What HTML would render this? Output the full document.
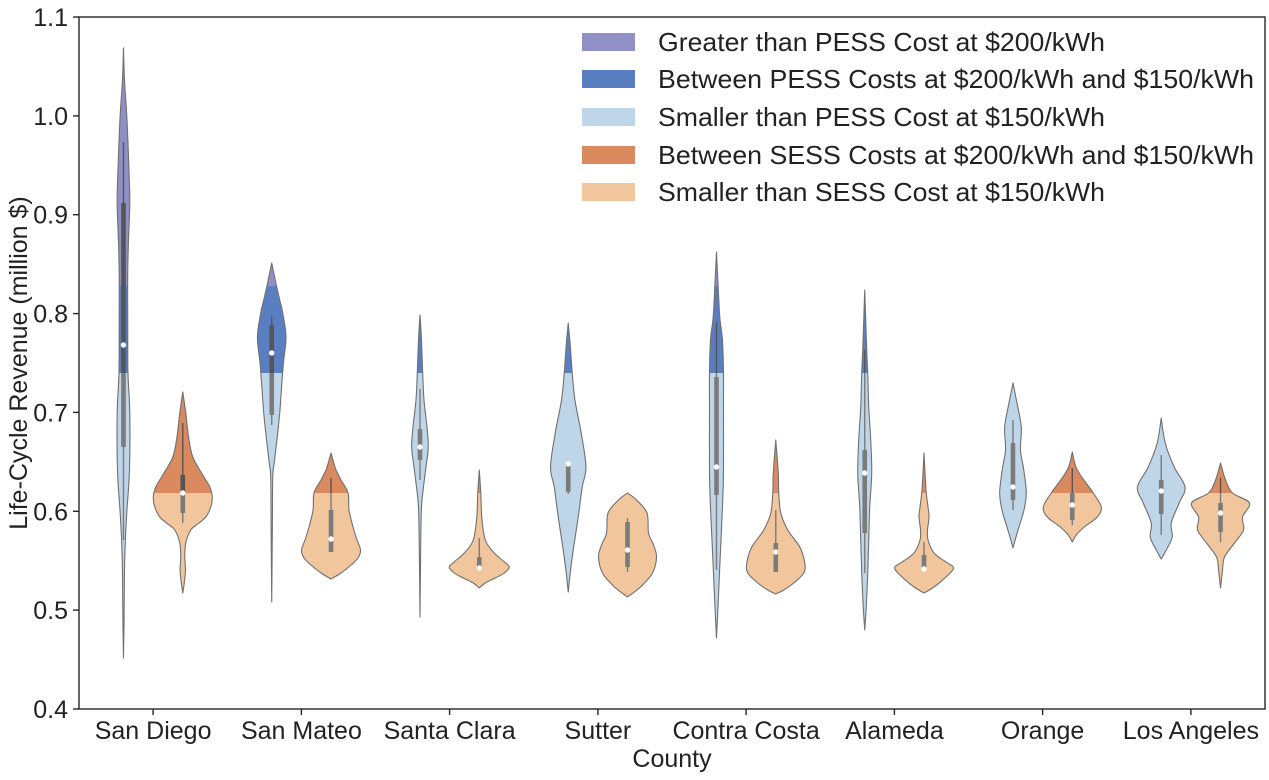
<!DOCTYPE html>
<html>
<head>
<meta charset="utf-8">
<style>
  html,body{margin:0;padding:0;background:#fff;}
  svg{display:block;}
  text{font-family:"Liberation Sans", Arial, sans-serif; fill:#222;}
</style>
</head>
<body>
<svg id="chart" width="1269" height="780" viewBox="0 0 1269 780" xmlns="http://www.w3.org/2000/svg">
  <defs>
    <linearGradient id="gBlue" gradientUnits="userSpaceOnUse" x1="0" y1="0" x2="0" y2="780">
      <stop offset="0" stop-color="#9190c6"/>
      <stop offset="0.3667" stop-color="#9190c6"/>
      <stop offset="0.3667" stop-color="#5a7ec2"/>
      <stop offset="0.4782" stop-color="#5a7ec2"/>
      <stop offset="0.4782" stop-color="#bfd5e8"/>
      <stop offset="1" stop-color="#bfd5e8"/>
    </linearGradient>
    <linearGradient id="gOrange" gradientUnits="userSpaceOnUse" x1="0" y1="0" x2="0" y2="780">
      <stop offset="0" stop-color="#da8a5e"/>
      <stop offset="0.6321" stop-color="#da8a5e"/>
      <stop offset="0.6321" stop-color="#f1c69d"/>
      <stop offset="1" stop-color="#f1c69d"/>
    </linearGradient>
    <linearGradient id="bxBlue" gradientUnits="userSpaceOnUse" x1="0" y1="0" x2="0" y2="780">
      <stop offset="0" stop-color="#555"/>
      <stop offset="0.4782" stop-color="#555"/>
      <stop offset="0.4782" stop-color="#7b7b7b"/>
      <stop offset="1" stop-color="#7b7b7b"/>
    </linearGradient>
    <linearGradient id="bxOrange" gradientUnits="userSpaceOnUse" x1="0" y1="0" x2="0" y2="780">
      <stop offset="0" stop-color="#555"/>
      <stop offset="0.6321" stop-color="#555"/>
      <stop offset="0.6321" stop-color="#7b7b7b"/>
      <stop offset="1" stop-color="#7b7b7b"/>
    </linearGradient>
  </defs>
  <rect x="0" y="0" width="1269" height="780" fill="#fff"/>
  <g id="violins"></g>
  <g id="boxes"></g>

  <!-- axes frame -->
  <rect x="79" y="17" width="1186" height="692" fill="none" stroke="#262626" stroke-width="1.4"/>

  <!-- y ticks -->
  <g stroke="#262626" stroke-width="1.4">
    <line x1="73" y1="17" x2="79" y2="17"/>
    <line x1="73" y1="115.9" x2="79" y2="115.9"/>
    <line x1="73" y1="214.7" x2="79" y2="214.7"/>
    <line x1="73" y1="313.6" x2="79" y2="313.6"/>
    <line x1="73" y1="412.4" x2="79" y2="412.4"/>
    <line x1="73" y1="511.3" x2="79" y2="511.3"/>
    <line x1="73" y1="610.1" x2="79" y2="610.1"/>
    <line x1="73" y1="709" x2="79" y2="709"/>
  </g>
  <g font-size="25" text-anchor="end">
    <text x="68" y="26">1.1</text>
    <text x="68" y="124.9">1.0</text>
    <text x="68" y="223.7">0.9</text>
    <text x="68" y="322.6">0.8</text>
    <text x="68" y="421.4">0.7</text>
    <text x="68" y="520.3">0.6</text>
    <text x="68" y="619.1">0.5</text>
    <text x="68" y="718">0.4</text>
  </g>

  <!-- x ticks -->
  <g stroke="#262626" stroke-width="1.4">
    <line x1="153.1" y1="709" x2="153.1" y2="715"/>
    <line x1="301.4" y1="709" x2="301.4" y2="715"/>
    <line x1="449.6" y1="709" x2="449.6" y2="715"/>
    <line x1="597.9" y1="709" x2="597.9" y2="715"/>
    <line x1="746.1" y1="709" x2="746.1" y2="715"/>
    <line x1="894.4" y1="709" x2="894.4" y2="715"/>
    <line x1="1042.6" y1="709" x2="1042.6" y2="715"/>
    <line x1="1190.9" y1="709" x2="1190.9" y2="715"/>
  </g>
  <g font-size="25" text-anchor="middle">
    <text x="153.1" y="739">San Diego</text>
    <text x="301.4" y="739">San Mateo</text>
    <text x="449.6" y="739">Santa Clara</text>
    <text x="597.9" y="739">Sutter</text>
    <text x="746.1" y="739">Contra Costa</text>
    <text x="894.4" y="739">Alameda</text>
    <text x="1042.6" y="739">Orange</text>
    <text x="1190.9" y="739">Los Angeles</text>
    <text x="672" y="767">County</text>
  </g>
  <text font-size="25" text-anchor="middle" transform="translate(27,363) rotate(-90)">Life-Cycle Revenue (million $)</text>

  <!-- legend -->
  <g>
    <rect x="582" y="33" width="53" height="18" fill="#9190c6"/>
    <rect x="582" y="70" width="53" height="18" fill="#5a7ec2"/>
    <rect x="582" y="108" width="53" height="18" fill="#bfd5e8"/>
    <rect x="582" y="146" width="53" height="18" fill="#da8a5e"/>
    <rect x="582" y="183" width="53" height="18" fill="#f1c69d"/>
  </g>
  <g font-size="26">
    <text x="658" y="51" textLength="447" lengthAdjust="spacingAndGlyphs">Greater than PESS Cost at $200/kWh</text>
    <text x="658" y="88" textLength="596" lengthAdjust="spacingAndGlyphs">Between PESS Costs at $200/kWh and $150/kWh</text>
    <text x="658" y="126" textLength="447" lengthAdjust="spacingAndGlyphs">Smaller than PESS Cost at $150/kWh</text>
    <text x="658" y="164" textLength="596" lengthAdjust="spacingAndGlyphs">Between SESS Costs at $200/kWh and $150/kWh</text>
    <text x="658" y="201" textLength="447" lengthAdjust="spacingAndGlyphs">Smaller than SESS Cost at $150/kWh</text>
  </g>
</svg>
<script>
(function(){
  var NS = "http://www.w3.org/2000/svg";
  function tick(i){ return 79 + 148.25*(i+0.5); }
  var blue = [
    [[48,0],[80,1],[110,3],[130,4],[170,5.5],[203,6.3],[247,4.8],[280,4.2],[330,4.3],[373,4.5],[413,6.3],[470,6],[510,3.5],[537,2],[570,1],[620,0.6],[658,0]],
    [[263,0],[275,2.5],[287,5],[300,8],[313,11],[337,14.3],[363,11.7],[385,10],[413,8],[437,5.5],[463,2.5],[477,1],[530,0.6],[602,0]],
    [[315,0],[340,1.5],[373,2.7],[400,4],[427,7],[447,8.3],[467,6],[487,3.5],[507,1.5],[540,0.8],[617,0]],
    [[323,0],[345,2],[373,4],[400,6.7],[433,13],[467,17.7],[487,14],[517,10],[550,5],[573,2],[592,0]],
    [[252,0],[283,1.5],[317,3.3],[340,6],[373,7],[407,7],[473,7],[507,6],[540,4.5],[573,3],[607,1.5],[638,0]],
    [[290,0],[350,2],[373,3],[407,4],[440,6],[473,7],[507,5],[540,4],[573,3],[607,1.5],[630,0]],
    [[383,0],[403,4],[427,8.3],[450,7.5],[470,10.8],[493,13.3],[510,11],[527,6],[537,3],[548,0]],
    [[418,0],[443,4],[467,13],[487,23.8],[503,18],[523,10],[537,11],[550,5],[559,0]]
  ];
  var orange = [
    [[392,0],[413,3],[437,5.8],[457,10],[475,20],[487,27],[497,29.5],[507,28],[517,23],[524,15],[530,8],[543,3],[557,2],[570,2.7],[583,1.5],[593,0]],
    [[453,0],[462,2.5],[470,5],[480,10],[493,17],[510,18],[527,22],[540,26],[550,29.5],[558,27],[565,20],[573,10],[579,0]],
    [[470,0],[493,1.5],[517,2.5],[540,6],[553,15],[561,24],[567,30],[573,25],[578,16],[583,6],[588,0]],
    [[493,0],[500,9],[513,19.5],[533,21],[545,26],[557,29],[573,25],[587,13],[597,0]],
    [[440,0],[473,2.5],[493,3],[513,5],[530,12],[547,24],[563,29],[573,28],[583,18],[590,8],[594,0]],
    [[453,0],[490,2],[507,4],[517,5],[530,3.5],[540,4],[553,10],[562,22],[568,29.5],[577,22],[587,10],[593,0]],
    [[452,0],[470,5],[493,21],[507,29],[517,25],[527,12],[535,4],[542,0]],
    [[463,0],[480,5],[493,12],[503,29],[517,22],[530,23],[543,14],[557,4],[570,2],[588,0]]
  ];
  // [whiskTop, whiskBot, boxTop, boxBot, median]
  var bBox = [
    [142,540,203,447,345],[316,425,325,415,353],[389,480,429,460,447],[462,494,465,492,464],
    [322,570,377,495,467],[350,573,450,533,473],[420,510,443,500,487],[455,535,480,514,491]
  ];
  var oBox = [
    [423,523,475,513,493],[478,552,510,552,539],[538,570,557,570,568],[518,572,522,567,550],
    [510,572,543,572,552],[542,570,555,570,569],[468,525,493,520,505],[478,542,503,532,513]
  ];
  function side(prof, cx, sgn){
    return prof.map(function(p){ return [cx + sgn*p[1], p[0]]; });
  }
  function cr(pts){
    var s = "";
    for (var i=0;i<pts.length-1;i++){
      var p0 = pts[i>0?i-1:i], p1=pts[i], p2=pts[i+1], p3=pts[i+2<pts.length?i+2:i+1];
      var c1x = p1[0] + (p2[0]-p0[0])/6, c1y = p1[1] + (p2[1]-p0[1])/6;
      var c2x = p2[0] - (p3[0]-p1[0])/6, c2y = p2[1] - (p3[1]-p1[1])/6;
      s += " C"+c1x.toFixed(2)+","+c1y.toFixed(2)+" "+c2x.toFixed(2)+","+c2y.toFixed(2)+" "+p2[0].toFixed(2)+","+p2[1].toFixed(2);
    }
    return s;
  }
  function violinPath(prof, cx){
    var r = side(prof, cx, 1);
    var l = side(prof, cx, -1).reverse();
    return "M"+r[0][0]+","+r[0][1] + cr(r) + cr(l) + " Z";
  }
  var gv = document.getElementById("violins");
  var gb = document.getElementById("boxes");
  function addViolin(prof, cx, fill){
    var p = document.createElementNS(NS,"path");
    p.setAttribute("d", violinPath(prof, cx));
    p.setAttribute("fill", fill);
    p.setAttribute("stroke", "#707070");
    p.setAttribute("stroke-width", "1.1");
    p.setAttribute("stroke-linejoin", "round");
    gv.appendChild(p);
  }
  function addBox(b, cx, grad){
    var l = document.createElementNS(NS,"rect");
    l.setAttribute("x",cx-0.7); l.setAttribute("width",1.4);
    l.setAttribute("y",b[0]); l.setAttribute("height",b[1]-b[0]);
    l.setAttribute("fill",grad);
    gb.appendChild(l);
    var r = document.createElementNS(NS,"rect");
    r.setAttribute("x",cx-2.3); r.setAttribute("width",4.6);
    r.setAttribute("y",b[2]); r.setAttribute("height",Math.max(1,b[3]-b[2]));
    r.setAttribute("fill",grad);
    gb.appendChild(r);
    var c = document.createElementNS(NS,"circle");
    c.setAttribute("cx",cx); c.setAttribute("cy",b[4]); c.setAttribute("r",2.7);
    c.setAttribute("fill","#fff");
    gb.appendChild(c);
  }
  for (var i=0;i<8;i++){
    var t = tick(i);
    addViolin(blue[i], t-29.65, "url(#gBlue)");
    addViolin(orange[i], t+29.65, "url(#gOrange)");
    addBox(bBox[i], t-29.65, "url(#bxBlue)");
    addBox(oBox[i], t+29.65, "url(#bxOrange)");
  }
})();
</script>
</body>
</html>
